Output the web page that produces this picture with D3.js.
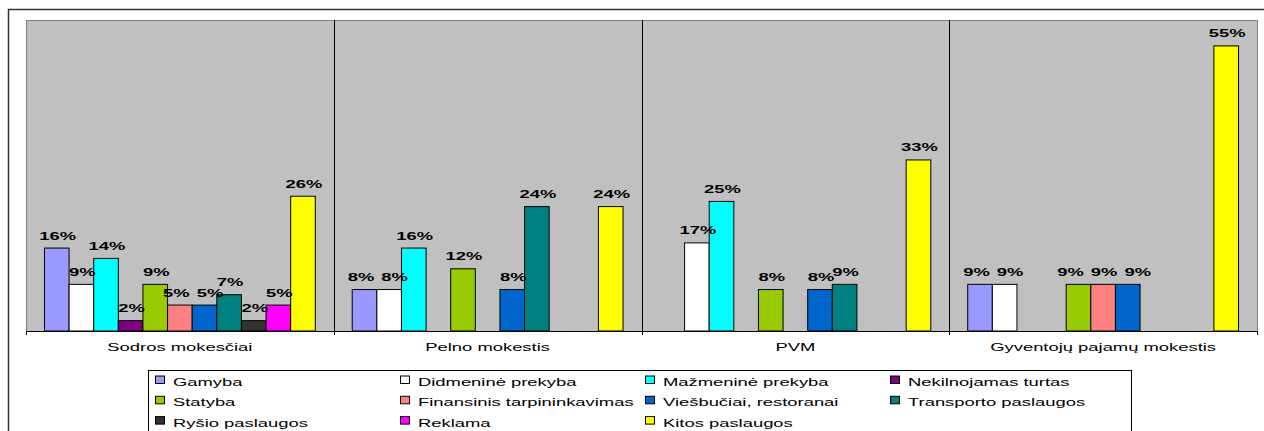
<!DOCTYPE html>
<html>
<head>
<meta charset="utf-8">
<style>
  body { margin: 0; background: #fff; }
  svg text { font-family: "Liberation Sans", Arial, sans-serif; }
</style>
</head>
<body>
<svg id="chart" width="1264" height="431"></svg>
<script src="https://d3js.org/d3.v7.min.js"></script>
<script>
var groups = ["Sodros mokesčiai", "Pelno mokestis", "PVM", "Gyventojų pajamų mokestis"];
var sectors = ["Gamyba", "Didmeninė prekyba", "Mažmeninė prekyba", "Nekilnojamas turtas",
               "Statyba", "Finansinis tarpininkavimas", "Viešbučiai, restoranai", "Transporto paslaugos",
               "Ryšio paslaugos", "Reklama", "Kitos paslaugos"];
var colors = ["#9999FF", "#FFFFFF", "#00FFFF", "#800080", "#99CC00", "#FF8080",
              "#0066CC", "#008080", "#333333", "#FF00FF", "#FFFF00"];

// shares in %, one array per tax (0 = no bar)
var sodros = [16, 9, 14, 2, 9, 5, 5, 7, 2, 5, 26];
var pelno  = [8, 8, 16, 0, 12, 0, 8, 24, 0, 0, 24];
var pvm    = [0, 17, 25, 0, 8, 0, 8, 9, 0, 0, 33];
var gpm    = [9, 9, 0, 0, 9, 9, 9, 0, 0, 0, 55];
var series = [sodros, pelno, pvm, gpm];

var SX = 1.6; // the original picture is stretched horizontally

var svg = d3.select("svg");
var pLeft = 26, pRight = 1257, pTop = 20, pBottom = 331;

// outer frame
svg.append("rect")
    .attr("x", 8.5).attr("y", 9.5)
    .attr("width", 1270).attr("height", 440)
    .attr("fill", "#fff").attr("stroke", "#333").attr("stroke-width", 1.5);

var x0 = d3.scaleBand().domain(groups).range([pLeft, pRight]).padding(0);
var x1 = d3.scaleBand().domain(d3.range(sectors.length))
    .range([0, x0.bandwidth()]).paddingInner(0).paddingOuter(0.75);
var y = d3.scaleLinear().domain([0, 60]).range([pBottom, pTop]);

svg.append("rect")
    .attr("x", pLeft + 0.5).attr("y", pTop + 0.5)
    .attr("width", pRight - pLeft).attr("height", pBottom - pTop)
    .attr("fill", "#C0C0C0").attr("stroke", "#808080").attr("stroke-width", 1);

// separators between groups
svg.selectAll(".sep")
  .data(groups.slice(1))
  .enter().append("line")
    .attr("x1", function(d) { return Math.round(x0(d)) + 0.5; })
    .attr("x2", function(d) { return Math.round(x0(d)) + 0.5; })
    .attr("y1", pTop).attr("y2", pBottom)
    .attr("stroke", "#000").attr("stroke-width", 1);

function stretched(sel, fx, fy) {
  sel.attr("transform", function(d, i) {
    return "translate(" + fx(d, i) + "," + fy(d, i) + ") scale(" + SX + ",1)";
  });
}

var g = svg.selectAll(".grp")
  .data(groups)
  .enter().append("g")
    .attr("class", "grp")
    .attr("transform", function(d) { return "translate(" + x0(d) + ",0)"; });

var bars = g.selectAll(".bar")
  .data(function(d, gi) {
    return series[gi].map(function(v, i) { return {i: i, v: v}; })
      .filter(function(e) { return e.v > 0; });
  })
  .enter();

bars.append("rect")
    .attr("x", function(d) { return x1(d.i); })
    .attr("y", function(d) { return y(d.v); })
    .attr("width", x1.bandwidth())
    .attr("height", function(d) { return pBottom - y(d.v); })
    .attr("fill", function(d) { return colors[d.i]; })
    .attr("stroke", "#000").attr("stroke-width", 1);

bars.append("text")
    .attr("class", "val")
    .attr("text-anchor", "middle")
    .attr("font-size", 11.5)
    .attr("font-weight", "bold")
    .text(function(d) { return d.v + "%"; })
    .each(function(d) {
      d.cx = x1(d.i) + x1.bandwidth() / 2 + 1;
      d.w = this.getComputedTextLength() * SX;
    });

// push apart labels that sit on the same height and collide
g.each(function() {
  var labs = d3.select(this).selectAll("text.val").data();
  for (var it = 0; it < 20; it++) {
    for (var k = 1; k < labs.length; k++) {
      var a = labs[k - 1], b = labs[k];
      if (a.v !== b.v) continue;
      var over = (a.cx + a.w / 2 + 7) - (b.cx - b.w / 2);
      if (over > 0.1) { a.cx -= over / 2; b.cx += over / 2; }
    }
  }
});

svg.selectAll("text.val")
    .call(stretched,
          function(d) { return d.cx; },
          function(d) { return y(d.v) - 8.5; });

// category axis
var axis = svg.append("g").attr("transform", "translate(0," + pBottom + ")");
axis.append("line")
    .attr("x1", pLeft).attr("x2", pRight + 1).attr("y1", 0.5).attr("y2", 0.5)
    .attr("stroke", "#000");
axis.selectAll(".tk")
  .data(groups.concat([null]))
  .enter().append("line")
    .attr("x1", function(d) { return Math.round(d === null ? pRight : x0(d)) + 0.5; })
    .attr("x2", function(d) { return Math.round(d === null ? pRight : x0(d)) + 0.5; })
    .attr("y1", 0).attr("y2", 4)
    .attr("stroke", "#000");
axis.selectAll(".lbl")
  .data(groups)
  .enter().append("text")
    .attr("text-anchor", "middle")
    .attr("font-size", 11.5)
    .text(function(d) { return d; })
    .call(stretched,
          function(d) { return x0(d) + x0.bandwidth() / 2; },
          function() { return 19.7; });

// legend
var legX = d3.scaleLinear().domain([0, 4]).range([155, 155 + 4 * 245]);
var rowY = [386, 406.3, 426.6];

svg.append("rect")
    .attr("x", 148.5).attr("y", 370.5)
    .attr("width", 983).attr("height", 80)
    .attr("fill", "#fff").attr("stroke", "#000").attr("stroke-width", 1);

var item = svg.selectAll(".leg")
  .data(sectors)
  .enter().append("g")
    .attr("class", "leg");

item.append("rect")
    .attr("x", function(d, i) { return legX(i % 4) + 0.5; })
    .attr("y", function(d, i) { return rowY[Math.floor(i / 4)] - 10; })
    .attr("width", 9).attr("height", 7.5)
    .attr("fill", function(d, i) { return colors[i]; })
    .attr("stroke", "#000").attr("stroke-width", 1);

item.append("text")
    .attr("font-size", 11.5)
    .text(function(d) { return d; })
    .call(stretched,
          function(d, i) { return legX(i % 4) + 18; },
          function(d, i) { return rowY[Math.floor(i / 4)]; });
</script>
</body>
</html>
